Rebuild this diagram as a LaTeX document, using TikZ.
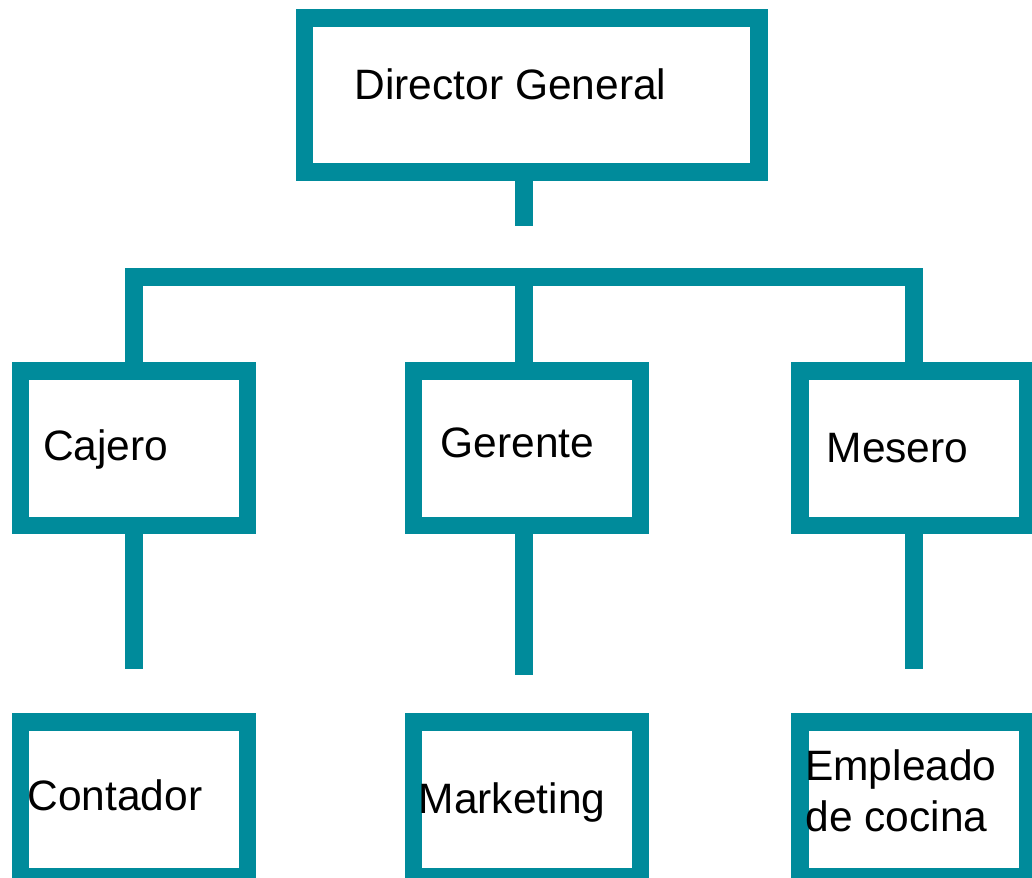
\documentclass[tikz,border=0pt]{standalone}
\usepackage{fontspec}
\setmainfont{Liberation Sans}
\definecolor{teal1}{HTML}{008B9B}
\begin{document}
\begin{tikzpicture}[x=1pt,y=-1pt,
  orgbox/.style={draw=teal1,line width=17.5pt,inner sep=0pt,minimum width=227.2pt,minimum height=154.3pt},
  conn/.style={draw=teal1,line width=17.5pt,line cap=butt},
  tx/.style={anchor=base west,inner sep=0pt,font=\fontsize{42.5}{50}\selectfont}]
\useasboundingbox (0,0) rectangle (1032,877);
\clip (0,0) rectangle (1032,877);
% boxes
\node[orgbox,minimum width=454.7pt,minimum height=154.2pt] (dir) at (531.65,94.9) {};
\node[orgbox] (caj) at (133.9,448.35) {};
\node[orgbox] (ger) at (527.1,448.35) {};
\node[orgbox] (mes) at (913.8,448.35) {};
\node[orgbox,minimum height=155pt] (con) at (133.9,799.5) {};
\node[orgbox,minimum height=155pt] (mkt) at (527.1,799.5) {};
\node[orgbox,minimum height=155pt] (emp) at (913.8,799.5) {};
% connector coordinates
\coordinate (stemEnd) at (524,225.7);
\coordinate (barL) at (125,276.9);
\coordinate (barR) at (922.7,276.9);
\coordinate (cajEnd) at (133.9,669.3);
\coordinate (gerEnd) at (524,674.7);
\coordinate (mesEnd) at (913.8,669.3);
% connectors
\draw[conn] (stemEnd |- dir.south) -- (stemEnd);
\draw[conn] (barL) -- (barR);
\draw[conn] (caj.north |- barL) -- (caj.north);
\draw[conn] (stemEnd |- barL) -- (stemEnd |- ger.north);
\draw[conn] (mes.north |- barL) -- (mes.north);
\draw[conn] (caj.south) -- (cajEnd);
\draw[conn] (gerEnd |- ger.south) -- (gerEnd);
\draw[conn] (mes.south) -- (mesEnd);
% texts
\node[tx] (tdir) at (354.5,100) {Director General};
\node[tx] (tcaj) at (43,460) {Cajero};
\node[tx] (tger) at (440.5,457.3) {Gerente};
\node[tx] (tmes) at (826.5,462.7) {Mesero};
\node[tx] (tcon) at (27.3,810.7) {Contador};
\node[tx] (tmkt) at (418.5,813.3) {Marketing};
\node[tx] (temp1) at (805,780) {Empleado};
\node[tx] (temp2) at (805.5,831) {de cocina};
\end{tikzpicture}
\end{document}
